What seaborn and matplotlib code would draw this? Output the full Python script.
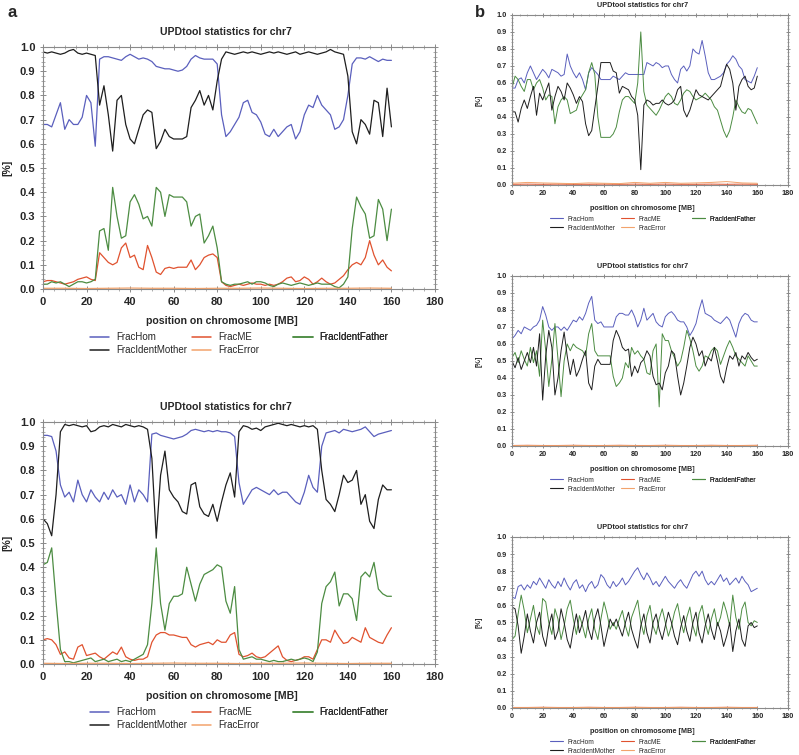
import numpy as np
import pandas as pd
import seaborn as sns
from matplotlib import pyplot as plt
from matplotlib.lines import Line2D
from matplotlib.ticker import MultipleLocator

# chromosome positions [MB], one value every 2 MB
pos = np.arange(0, 161, 2)
# coarse positions for the flat FracME / FracError lines of the small panels
flat_pos = np.arange(0, 161, 10)

a1_hom = [0.68, 0.68, 0.67, 0.72, 0.77, 0.66, 0.70, 0.68, 0.68, 0.71,
          0.80, 0.77, 0.59, 0.95, 0.96, 0.96, 0.955, 0.95, 0.945, 0.96,
          0.97, 0.96, 0.95, 0.955, 0.95, 0.94, 0.92, 0.915, 0.91, 0.91,
          0.905, 0.90, 0.905, 0.92, 0.95, 0.965, 0.955, 0.95, 0.95, 0.95,
          0.93, 0.72, 0.63, 0.65, 0.68, 0.71, 0.77, 0.78, 0.73, 0.72,
          0.69, 0.64, 0.63, 0.66, 0.63, 0.65, 0.67, 0.68, 0.62, 0.65,
          0.72, 0.76, 0.75, 0.80, 0.76, 0.74, 0.72, 0.66, 0.67, 0.70,
          0.80, 0.93, 0.955, 0.955, 0.95, 0.96, 0.95, 0.94, 0.95, 0.945,
          0.945]
a1_mother = [0.98, 0.975, 0.98, 0.975, 0.97, 0.975, 0.985, 0.99, 0.975, 0.97,
             0.975, 0.97, 0.965, 0.76, 0.84, 0.72, 0.57, 0.78, 0.80, 0.68,
             0.62, 0.60, 0.66, 0.72, 0.74, 0.73, 0.58, 0.61, 0.66, 0.63,
             0.62, 0.62, 0.62, 0.63, 0.75, 0.78, 0.82, 0.76, 0.80, 0.74,
             0.86, 0.95, 0.98, 0.975, 0.97, 0.975, 0.98, 0.975, 0.98, 0.975,
             0.97, 0.975, 0.98, 0.975, 0.98, 0.975, 0.97, 0.975, 0.98, 0.97,
             0.975, 0.98, 0.975, 0.97, 0.975, 0.98, 0.99, 0.98, 0.975, 0.97,
             0.88, 0.65, 0.60, 0.70, 0.68, 0.64, 0.78, 0.77, 0.63, 0.83,
             0.67]
a1_father = [0.02, 0.02, 0.03, 0.025, 0.03, 0.02, 0.01, 0.02, 0.03, 0.03,
             0.025, 0.03, 0.04, 0.24, 0.25, 0.16, 0.42, 0.30, 0.21, 0.22,
             0.36, 0.39, 0.35, 0.29, 0.30, 0.26, 0.42, 0.40, 0.30, 0.39,
             0.38, 0.38, 0.38, 0.36, 0.26, 0.30, 0.31, 0.19, 0.22, 0.26,
             0.17, 0.03, 0.02, 0.015, 0.02, 0.02, 0.025, 0.03, 0.02, 0.03,
             0.03, 0.025, 0.015, 0.01, 0.02, 0.025, 0.02, 0.015, 0.02, 0.025,
             0.02, 0.015, 0.02, 0.025, 0.02, 0.02, 0.02, 0.01, 0.005, 0.02,
             0.05, 0.25, 0.38, 0.34, 0.31, 0.21, 0.22, 0.37, 0.33, 0.20,
             0.33]
a1_me = [0.03, 0.035, 0.035, 0.03, 0.025, 0.02, 0.025, 0.03, 0.04, 0.045,
         0.05, 0.04, 0.035, 0.15, 0.13, 0.11, 0.10, 0.11, 0.17, 0.19,
         0.13, 0.14, 0.09, 0.08, 0.18, 0.13, 0.07, 0.06, 0.085, 0.09,
         0.085, 0.09, 0.09, 0.09, 0.12, 0.08, 0.10, 0.13, 0.14, 0.145,
         0.13, 0.03, 0.015, 0.01, 0.015, 0.02, 0.015, 0.02, 0.025, 0.02,
         0.02, 0.015, 0.02, 0.015, 0.02, 0.03, 0.045, 0.05, 0.03, 0.035,
         0.05, 0.04, 0.02, 0.03, 0.045, 0.03, 0.02, 0.025, 0.04, 0.055,
         0.08, 0.10, 0.11, 0.10, 0.13, 0.20, 0.14, 0.10, 0.12, 0.09,
         0.075]
a1_err = [0.003, 0.003, 0.002, 0.003, 0.004, 0.003, 0.003, 0.002, 0.003,
          0.003, 0.004, 0.003, 0.002, 0.003, 0.003, 0.004, 0.003]

a2_hom = [0.945, 0.945, 0.94, 0.88, 0.74, 0.69, 0.71, 0.67, 0.76, 0.70,
          0.67, 0.72, 0.69, 0.67, 0.71, 0.68, 0.72, 0.69, 0.70, 0.66,
          0.74, 0.67, 0.72, 0.70, 0.67, 0.95, 0.955, 0.945, 0.94, 0.935,
          0.93, 0.935, 0.94, 0.95, 0.965, 0.97, 0.965, 0.96, 0.965, 0.96,
          0.965, 0.96, 0.96, 0.955, 0.94, 0.75, 0.66, 0.69, 0.72, 0.73,
          0.72, 0.71, 0.70, 0.72, 0.70, 0.71, 0.71, 0.69, 0.67, 0.66,
          0.71, 0.78, 0.73, 0.71, 0.90, 0.955, 0.96, 0.965, 0.955, 0.97,
          0.965, 0.96, 0.965, 0.97, 0.98, 0.96, 0.94, 0.95, 0.955, 0.96,
          0.965]
a2_mother = [0.60, 0.58, 0.53, 0.70, 0.96, 0.99, 0.985, 0.99, 0.985, 0.98,
             0.985, 0.96, 0.965, 0.98, 0.985, 0.98, 0.99, 0.985, 0.98, 0.99,
             0.985, 0.98, 0.985, 0.98, 0.97, 0.85, 0.52, 0.78, 0.88, 0.72,
             0.69, 0.67, 0.63, 0.62, 0.74, 0.75, 0.65, 0.62, 0.61, 0.66,
             0.59, 0.67, 0.74, 0.79, 0.69, 0.96, 0.985, 0.98, 0.97, 0.975,
             0.965, 0.98, 0.985, 0.99, 0.995, 0.99, 0.985, 0.99, 0.985, 0.98,
             0.985, 0.98, 0.985, 0.97, 0.80, 0.68, 0.66, 0.63, 0.70, 0.78,
             0.75, 0.76, 0.80, 0.66, 0.70, 0.59, 0.56, 0.68, 0.74, 0.72,
             0.72]
a2_father = [0.41, 0.42, 0.48, 0.26, 0.06, 0.01, 0.01, 0.005, 0.01, 0.015,
             0.02, 0.025, 0.01, 0.015, 0.02, 0.01, 0.015, 0.02, 0.01, 0.015,
             0.01, 0.02, 0.03, 0.04, 0.08, 0.25, 0.48, 0.25, 0.14, 0.25,
             0.28, 0.28, 0.29, 0.40, 0.33, 0.26, 0.33, 0.37, 0.38, 0.39,
             0.41, 0.40, 0.26, 0.21, 0.32, 0.06, 0.02, 0.025, 0.03, 0.02,
             0.02, 0.015, 0.01, 0.015, 0.01, 0.01, 0.015, 0.02, 0.015, 0.02,
             0.025, 0.02, 0.01, 0.05, 0.25, 0.32, 0.34, 0.38, 0.24, 0.29,
             0.29, 0.27, 0.18, 0.36, 0.38, 0.36, 0.42, 0.31, 0.29, 0.28,
             0.28]
a2_me = [0.10, 0.105, 0.10, 0.08, 0.04, 0.05, 0.025, 0.02, 0.07, 0.08,
         0.035, 0.04, 0.045, 0.03, 0.02, 0.035, 0.05, 0.04, 0.07, 0.03,
         0.02, 0.015, 0.02, 0.02, 0.03, 0.09, 0.12, 0.13, 0.13, 0.12,
         0.12, 0.115, 0.11, 0.11, 0.08, 0.07, 0.08, 0.085, 0.09, 0.08,
         0.10, 0.09, 0.09, 0.12, 0.13, 0.04, 0.03, 0.035, 0.045, 0.03,
         0.025, 0.03, 0.045, 0.06, 0.075, 0.03, 0.015, 0.01, 0.015, 0.02,
         0.03, 0.03, 0.02, 0.06, 0.10, 0.10, 0.09, 0.14, 0.11, 0.085,
         0.09, 0.11, 0.10, 0.09, 0.15, 0.11, 0.10, 0.09, 0.085, 0.12,
         0.15]
a2_err = [0.003, 0.002, 0.003, 0.003, 0.002, 0.003, 0.004, 0.003, 0.003,
          0.002, 0.003, 0.003, 0.004, 0.003, 0.002, 0.003, 0.003]

b1_hom = [0.57, 0.57, 0.62, 0.63, 0.60, 0.66, 0.70, 0.66, 0.62, 0.65,
          0.68, 0.66, 0.63, 0.68, 0.67, 0.66, 0.64, 0.65, 0.77, 0.70,
          0.66, 0.63, 0.66, 0.62, 0.56, 0.66, 0.69, 0.67, 0.65, 0.62,
          0.62, 0.62, 0.62, 0.64, 0.63, 0.62, 0.64, 0.66, 0.65, 0.65,
          0.65, 0.65, 0.65, 0.65, 0.72, 0.71, 0.70, 0.72, 0.71, 0.69,
          0.70, 0.70, 0.65, 0.62, 0.60, 0.68, 0.70, 0.67, 0.70, 0.80,
          0.78, 0.77, 0.85, 0.76, 0.66, 0.62, 0.62, 0.63, 0.64, 0.66,
          0.71, 0.73, 0.76, 0.74, 0.70, 0.68, 0.62, 0.61, 0.60, 0.64,
          0.69]
b1_mother = [0.43, 0.43, 0.37, 0.45, 0.50, 0.45, 0.52, 0.58, 0.41, 0.54,
             0.50, 0.55, 0.60, 0.44, 0.52, 0.58, 0.55, 0.50, 0.60, 0.57,
             0.53, 0.48, 0.52, 0.49, 0.36, 0.29, 0.32, 0.45, 0.58, 0.72,
             0.72, 0.72, 0.72, 0.67, 0.66, 0.54, 0.58, 0.57, 0.56, 0.52,
             0.50, 0.41, 0.09, 0.47, 0.50, 0.49, 0.47, 0.48, 0.48, 0.50,
             0.48, 0.47, 0.48, 0.50, 0.56, 0.58, 0.44, 0.40, 0.44, 0.50,
             0.56, 0.53, 0.52, 0.51, 0.50, 0.52, 0.54, 0.56, 0.58, 0.65,
             0.71, 0.68, 0.60, 0.44, 0.58, 0.62, 0.64, 0.58, 0.56, 0.57,
             0.64]
b1_father = [0.57, 0.64, 0.62, 0.58, 0.55, 0.62, 0.62, 0.56, 0.60, 0.62,
             0.57, 0.50, 0.53, 0.52, 0.36, 0.46, 0.50, 0.52, 0.50, 0.42,
             0.43, 0.44, 0.50, 0.53, 0.56, 0.66, 0.72, 0.65, 0.40, 0.28,
             0.28, 0.28, 0.28, 0.30, 0.34, 0.43, 0.50, 0.52, 0.52, 0.50,
             0.48, 0.60, 0.90, 0.55, 0.47, 0.45, 0.43, 0.41, 0.44, 0.48,
             0.52, 0.54, 0.52, 0.48, 0.47, 0.50, 0.54, 0.56, 0.55, 0.52,
             0.50, 0.51, 0.52, 0.54, 0.52, 0.50, 0.46, 0.44, 0.38, 0.32,
             0.28, 0.32, 0.40, 0.50, 0.46, 0.43, 0.42, 0.45, 0.44, 0.40,
             0.36]
b1_me = [0.004, 0.005, 0.004, 0.005, 0.004, 0.004, 0.005, 0.004, 0.005,
         0.004, 0.005, 0.004, 0.004, 0.005, 0.004, 0.005, 0.004]
b1_err = [0.010, 0.015, 0.012, 0.010, 0.008, 0.012, 0.010, 0.008, 0.015,
          0.010, 0.015, 0.010, 0.012, 0.015, 0.020, 0.012, 0.010]

b2_hom = [0.63, 0.65, 0.68, 0.66, 0.70, 0.69, 0.68, 0.70, 0.71, 0.74,
          0.82, 0.77, 0.70, 0.68, 0.70, 0.70, 0.68, 0.70, 0.68, 0.71,
          0.74, 0.73, 0.76, 0.74, 0.78, 0.84, 0.88, 0.74, 0.72, 0.73,
          0.70, 0.70, 0.70, 0.70, 0.76, 0.78, 0.78, 0.77, 0.77, 0.80,
          0.76, 0.70, 0.74, 0.81, 0.74, 0.76, 0.78, 0.73, 0.71, 0.70,
          0.76, 0.78, 0.79, 0.77, 0.74, 0.73, 0.73, 0.70, 0.65, 0.68,
          0.72, 0.80, 0.86, 0.78, 0.77, 0.76, 0.74, 0.73, 0.72, 0.74,
          0.76, 0.74, 0.69, 0.64, 0.72, 0.76, 0.78, 0.77, 0.74, 0.73,
          0.73]
b2_mother = [0.50, 0.46, 0.52, 0.45, 0.50, 0.55, 0.49, 0.58, 0.47, 0.66,
             0.27, 0.53, 0.68, 0.58, 0.30, 0.40, 0.56, 0.67, 0.53, 0.42,
             0.51, 0.41, 0.45, 0.51, 0.56, 0.37, 0.33, 0.47, 0.51, 0.48,
             0.48, 0.48, 0.48, 0.62, 0.68, 0.64, 0.58, 0.56, 0.57, 0.41,
             0.47, 0.43, 0.49, 0.51, 0.56, 0.53, 0.41, 0.36, 0.37, 0.33,
             0.43, 0.47, 0.56, 0.54, 0.41, 0.30, 0.37, 0.47, 0.58, 0.64,
             0.60, 0.53, 0.56, 0.47, 0.52, 0.50, 0.58, 0.50, 0.41, 0.37,
             0.46, 0.53, 0.51, 0.55, 0.47, 0.53, 0.51, 0.55, 0.52, 0.50,
             0.51]
b2_father = [0.52, 0.55, 0.49, 0.56, 0.51, 0.47, 0.58, 0.49, 0.56, 0.41,
             0.74, 0.56, 0.35, 0.51, 0.72, 0.51, 0.29, 0.50, 0.60, 0.56,
             0.60, 0.58, 0.57, 0.56, 0.53, 0.66, 0.72, 0.56, 0.53, 0.53,
             0.53, 0.53, 0.53, 0.41, 0.35, 0.37, 0.40, 0.49, 0.46, 0.58,
             0.54, 0.56, 0.53, 0.51, 0.43, 0.42, 0.56, 0.60, 0.23, 0.66,
             0.62, 0.62, 0.56, 0.52, 0.47, 0.50, 0.58, 0.68, 0.63, 0.56,
             0.47, 0.44, 0.47, 0.53, 0.52, 0.56, 0.58, 0.56, 0.48, 0.53,
             0.58, 0.62, 0.58, 0.53, 0.51, 0.49, 0.47, 0.53, 0.50, 0.47,
             0.47]
b2_me = [0.003, 0.004, 0.003, 0.003, 0.004, 0.003, 0.003, 0.004, 0.003,
         0.003, 0.004, 0.003, 0.003, 0.004, 0.003, 0.003, 0.004]
b2_err = [0.002, 0.003, 0.002, 0.002, 0.003, 0.002, 0.002, 0.003, 0.002,
          0.002, 0.003, 0.002, 0.002, 0.003, 0.002, 0.002, 0.003]

b3_hom = [0.65, 0.64, 0.71, 0.72, 0.69, 0.72, 0.70, 0.74, 0.72, 0.76,
          0.73, 0.70, 0.75, 0.72, 0.70, 0.74, 0.71, 0.76, 0.72, 0.69,
          0.73, 0.75, 0.70, 0.72, 0.68, 0.72, 0.74, 0.70, 0.72, 0.78,
          0.76, 0.72, 0.70, 0.74, 0.71, 0.73, 0.76, 0.72, 0.74, 0.77,
          0.80, 0.82, 0.78, 0.75, 0.79, 0.76, 0.72, 0.74, 0.71, 0.74,
          0.77, 0.74, 0.72, 0.70, 0.73, 0.75, 0.72, 0.70, 0.74, 0.78,
          0.80, 0.77, 0.80, 0.75, 0.72, 0.74, 0.72, 0.75, 0.78, 0.74,
          0.76, 0.72, 0.74, 0.76, 0.73, 0.77, 0.74, 0.72, 0.68, 0.69,
          0.70]
b3_mother = [0.59, 0.58, 0.48, 0.32, 0.42, 0.55, 0.45, 0.38, 0.50, 0.56,
             0.42, 0.36, 0.48, 0.55, 0.40, 0.45, 0.58, 0.50, 0.40, 0.35,
             0.46, 0.55, 0.44, 0.50, 0.57, 0.46, 0.40, 0.52, 0.58, 0.48,
             0.36, 0.44, 0.52, 0.48, 0.52, 0.47, 0.42, 0.50, 0.56, 0.46,
             0.40, 0.35, 0.48, 0.55, 0.44, 0.38, 0.50, 0.55, 0.46, 0.40,
             0.48, 0.56, 0.50, 0.42, 0.37, 0.47, 0.54, 0.45, 0.39, 0.50,
             0.56, 0.44, 0.38, 0.48, 0.55, 0.46, 0.40, 0.50, 0.45, 0.36,
             0.42, 0.50, 0.33, 0.45, 0.52, 0.40, 0.36, 0.48, 0.50, 0.47,
             0.48]
b3_father = [0.40, 0.42, 0.55, 0.66, 0.57, 0.44, 0.52, 0.60, 0.48, 0.43,
             0.64, 0.62, 0.50, 0.43, 0.58, 0.52, 0.40, 0.48, 0.58, 0.63,
             0.52, 0.43, 0.54, 0.48, 0.41, 0.52, 0.58, 0.46, 0.40, 0.52,
             0.62, 0.55, 0.46, 0.50, 0.46, 0.52, 0.57, 0.48, 0.42, 0.53,
             0.58, 0.63, 0.50, 0.43, 0.54, 0.60, 0.48, 0.43, 0.52, 0.58,
             0.50, 0.42, 0.48, 0.56, 0.61, 0.51, 0.44, 0.53, 0.59, 0.48,
             0.42, 0.55, 0.60, 0.50, 0.43, 0.52, 0.58, 0.48, 0.53, 0.62,
             0.56, 0.48, 0.66, 0.53, 0.46, 0.58, 0.62, 0.50, 0.48, 0.51,
             0.50]
b3_me = [0.003, 0.003, 0.004, 0.003, 0.003, 0.004, 0.003, 0.003, 0.004,
         0.003, 0.003, 0.004, 0.003, 0.003, 0.004, 0.003, 0.003]
b3_err = [0.002, 0.002, 0.003, 0.002, 0.002, 0.003, 0.002, 0.002, 0.003,
          0.002, 0.002, 0.003, 0.002, 0.002, 0.003, 0.002, 0.002]

names = ['FracHom', 'FracME', 'FracIdentFather', 'FracIdentMother', 'FracError']
colors = ['#5a5fbd', '#e0522f', '#4c8c42', '#1e1e1e', '#f2a36c']

sns.set_style("ticks")
plt.rcParams['font.family'] = ['Liberation Sans', 'DejaVu Sans']


def draw_panel(ax, hom, me, father, mother, err, me_x, big):
    fs_tick = 8 if big else 5.3
    fs_lab = 7.6 if big else 5.2
    fs_leg = 7 if big else 4.7
    lw = 0.9 if big else 0.7
    series = [(pos, hom), (me_x, me), (pos, father), (pos, mother), (flat_pos, err)]
    for (xs, ys), c in zip(series, colors):
        sns.lineplot(x=xs, y=ys, ax=ax, color=c, linewidth=lw,
                     estimator=None, legend=False)

    ax.set_xlim(0, 180)
    ax.set_ylim(0, 1.0)
    ax.xaxis.set_major_locator(MultipleLocator(20))
    ax.xaxis.set_minor_locator(MultipleLocator(5))
    ax.yaxis.set_major_locator(MultipleLocator(0.1))
    ax.yaxis.set_minor_locator(MultipleLocator(0.02))
    ax.yaxis.set_major_formatter(plt.FormatStrFormatter('%.1f'))
    ax.tick_params(which='both', direction='inout', top=True, right=True,
                   color='#8a8a8a', labelsize=fs_tick, pad=3 if big else 2)
    ax.tick_params(which='major', length=5 if big else 3.5, width=0.7)
    ax.tick_params(which='minor', length=2.5 if big else 1.8, width=0.5)
    for lab in ax.get_xticklabels() + ax.get_yticklabels():
        lab.set_fontweight('bold')
    for sp in ax.spines.values():
        sp.set_color('#8a8a8a')
        sp.set_linewidth(0.8)
        sp.set_visible(True)

    ax.set_xlabel('position on chromosome [MB]', fontsize=fs_lab, fontweight='bold')
    ax.set_ylabel('[%]', fontsize=fs_lab, fontweight='bold')
    if big:
        ax.xaxis.set_label_coords(0.457, -0.112)
        ax.yaxis.set_label_coords(-0.079, 0.5)
        ax.text(0.467, 1.064, 'UPDtool statistics for chr7', transform=ax.transAxes,
                ha='center', va='center', fontsize=fs_lab, fontweight='bold')
        x0, dx, y0 = 0.12, 0.259, -0.178
    else:
        ax.xaxis.set_label_coords(0.473, -0.115)
        ax.yaxis.set_label_coords(-0.105, 0.5)
        ax.text(0.473, 1.058, 'UPDtool statistics for chr7', transform=ax.transAxes,
                ha='center', va='center', fontsize=fs_lab, fontweight='bold')
        x0, dx, y0 = 0.138, 0.257, -0.18

    # legend laid out in three fixed columns, filled row by row
    handles = [Line2D([], [], color=c, lw=1.1 if big else 0.8) for c in colors]
    for j, idx in enumerate([[0, 3], [1, 4], [2]]):
        leg = ax.legend([handles[i] for i in idx], [names[i] for i in idx],
                        loc='upper left', bbox_to_anchor=(x0 + j * dx, y0),
                        frameon=False, fontsize=fs_leg, handlelength=2.0,
                        handletextpad=0.7, borderpad=0, borderaxespad=0,
                        labelspacing=0.3)
        ax.add_artist(leg)


fig = plt.figure(figsize=(7.99, 7.55), dpi=100)

ax_a1 = fig.add_axes([0.0538, 0.6172, 0.4906, 0.3205])
ax_a2 = fig.add_axes([0.0538, 0.1205, 0.4906, 0.3205])
ax_b1 = fig.add_axes([0.6408, 0.7550, 0.3454, 0.2252])
ax_b2 = fig.add_axes([0.6408, 0.4093, 0.3454, 0.2252])
ax_b3 = fig.add_axes([0.6408, 0.0623, 0.3454, 0.2265])

draw_panel(ax_a1, a1_hom, a1_me, a1_father, a1_mother, a1_err, pos, True)
draw_panel(ax_a2, a2_hom, a2_me, a2_father, a2_mother, a2_err, pos, True)
draw_panel(ax_b1, b1_hom, b1_me, b1_father, b1_mother, b1_err, flat_pos, False)
draw_panel(ax_b2, b2_hom, b2_me, b2_father, b2_mother, b2_err, flat_pos, False)
draw_panel(ax_b3, b3_hom, b3_me, b3_father, b3_mother, b3_err, flat_pos, False)

fig.text(0.015, 0.983, 'a', fontsize=12, fontweight='bold', ha='center', va='center')
fig.text(0.601, 0.983, 'b', fontsize=12, fontweight='bold', ha='center', va='center')

fig.savefig('out.png', dpi=100, facecolor='white')
